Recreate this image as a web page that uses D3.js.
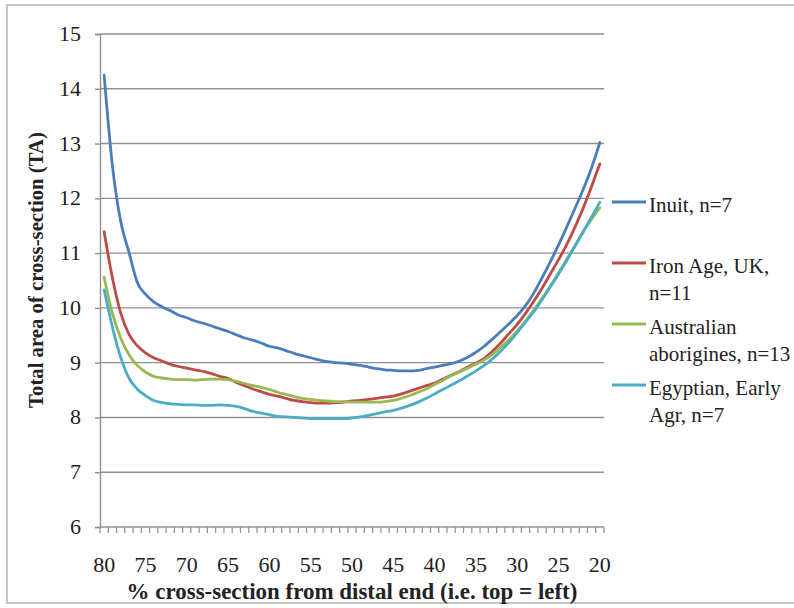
<!DOCTYPE html>
<html>
<head>
<meta charset="utf-8">
<script src="https://cdn.jsdelivr.net/npm/d3@7"></script>
</head>
<body style="margin:0">
<svg id="chart" width="794" height="608" font-family="Liberation Serif"></svg>
<script>
// ---- data ----
const categories = ["80","79","78","77","76","75","74","73","72","71",
  "70","69","68","67","66","65","64","63","62","61",
  "60","59","58","57","56","55","54","53","52","51",
  "50","49","48","47","46","45","44","43","42","41",
  "40","39","38","37","36","35","34","33","32","31",
  "30","29","28","27","26","25","24","23","22","21","20"];
const tickLabels = ["80","75","70","65","60","55","50","45","40","35","30","25","20"];
const yTicks = [6,7,8,9,10,11,12,13,14,15];

const inuit = [14.25,12.6,11.58,11.02,10.47,10.25,10.11,10.02,9.95,9.87,
  9.82,9.76,9.72,9.67,9.62,9.57,9.51,9.45,9.41,9.36,
  9.30,9.27,9.22,9.17,9.13,9.09,9.05,9.02,9.00,8.99,
  8.97,8.95,8.92,8.89,8.87,8.86,8.85,8.85,8.86,8.89,
  8.92,8.95,8.98,9.03,9.10,9.19,9.30,9.43,9.57,9.71,
  9.86,10.04,10.27,10.55,10.84,11.15,11.48,11.82,12.17,12.56,13.02];
const ironAge = [11.39,10.55,9.91,9.52,9.31,9.18,9.09,9.03,8.97,8.93,
  8.90,8.87,8.84,8.80,8.75,8.71,8.64,8.58,8.52,8.47,
  8.42,8.39,8.35,8.31,8.29,8.27,8.26,8.26,8.27,8.28,
  8.30,8.31,8.33,8.35,8.37,8.39,8.43,8.48,8.53,8.58,
  8.63,8.70,8.77,8.84,8.92,8.99,9.08,9.21,9.36,9.53,
  9.70,9.90,10.12,10.36,10.62,10.88,11.16,11.48,11.83,12.22,12.63];
const australian = [10.56,9.90,9.45,9.15,8.95,8.83,8.75,8.72,8.70,8.69,
  8.69,8.68,8.69,8.70,8.70,8.69,8.66,8.62,8.58,8.55,
  8.51,8.46,8.42,8.38,8.35,8.33,8.31,8.30,8.29,8.29,
  8.28,8.28,8.28,8.28,8.29,8.31,8.35,8.40,8.46,8.52,
  8.60,8.68,8.76,8.83,8.90,8.97,9.05,9.15,9.28,9.42,
  9.58,9.76,9.96,10.17,10.40,10.64,10.89,11.14,11.40,11.62,11.83];
const egyptian = [10.33,9.65,9.10,8.72,8.52,8.40,8.31,8.27,8.25,8.24,
  8.23,8.23,8.22,8.22,8.23,8.22,8.20,8.16,8.11,8.08,
  8.05,8.02,8.01,8.00,7.99,7.98,7.98,7.98,7.98,7.98,
  7.99,8.01,8.04,8.07,8.10,8.13,8.17,8.22,8.28,8.35,
  8.43,8.51,8.59,8.67,8.76,8.85,8.95,9.07,9.21,9.37,
  9.55,9.74,9.93,10.15,10.38,10.62,10.87,11.13,11.39,11.66,11.93];

const seriesNames = [["Inuit, n=7"], ["Iron Age, UK,", "n=11"], ["Australian", "aborigines, n=13"], ["Egyptian, Early", "Agr, n=7"]];
const seriesValues = [inuit, ironAge, australian, egyptian];
const seriesColors = ["#4a7ebb", "#be4b48", "#98b954", "#4bacc6"];

const xTitle = "% cross-section from distal end (i.e. top = left)";
const yTitle = "Total area of cross-section (TA)";

const F = "Liberation Serif";

// ---- layout ----
const svg = d3.select("#chart");
const plot = { left: 100, right: 604, top: 34, bottom: 527 };

function txt(parent, x, y, s, size, anchor) {
  return parent.append("text").attr("x", x).attr("y", y)
    .attr("font-family", F).style("font-family", F)
    .style("font-size", size + "px")
    .attr("text-anchor", anchor || "start")
    .attr("fill", "#222").text(s);
}

// outer frame
svg.append("rect")
  .attr("x", 7).attr("y", 5).attr("width", 790).attr("height", 598)
  .attr("fill", "none").attr("stroke", "#c4c4c4").attr("stroke-width", 2);

const x = d3.scaleBand().domain(categories).range([plot.left, plot.right]).paddingInner(0).paddingOuter(0);
const y = d3.scaleLinear().domain([6, 15]).range([plot.bottom, plot.top]);

// gridlines
svg.append("g").selectAll("line").data(yTicks.filter(d => d > 6)).join("line")
  .attr("x1", plot.left).attr("x2", plot.right)
  .attr("y1", d => y(d)).attr("y2", d => y(d))
  .attr("stroke", "#909090").attr("stroke-width", 1.4);

// y axis (lines from d3 axis, labels as plain texts)
const yAxis = svg.append("g").attr("transform", `translate(${plot.left},0)`)
  .call(d3.axisLeft(y).tickValues(yTicks).tickSize(5).tickFormat(""));
yAxis.select(".domain").attr("stroke", "#909090").attr("stroke-width", 1.4);
yAxis.selectAll(".tick line").attr("stroke", "#909090").attr("stroke-width", 1.4);
yAxis.selectAll(".tick text").remove();
const yLab = svg.append("g");
yTicks.forEach(v => txt(yLab, 81, y(v) + 7, String(v), 22, "end"));

// x axis (ticks between categories)
const xAxisG = svg.append("g").attr("transform", `translate(0,${plot.bottom})`);
xAxisG.append("line").attr("x1", plot.left).attr("x2", plot.right).attr("y1", 0).attr("y2", 0)
  .attr("stroke", "#909090").attr("stroke-width", 1.4);
const boundaries = categories.map(c => x(c)).concat([x(categories[categories.length - 1]) + x.bandwidth()]);
xAxisG.selectAll("line.tk").data(boundaries).join("line").attr("class", "tk")
  .attr("x1", d => d).attr("x2", d => d).attr("y1", 0).attr("y2", 6)
  .attr("stroke", "#909090").attr("stroke-width", 1.2);
tickLabels.forEach(c => txt(svg, x(c) + x.bandwidth() / 2, plot.bottom + 45, c, 22, "middle"));

// lines
const line = d3.line()
  .x((d, i) => x(categories[i]) + x.bandwidth() / 2)
  .y(d => y(d))
  .curve(d3.curveMonotoneX);
svg.append("g").selectAll("path").data(seriesValues).join("path")
  .attr("d", d => line(d)).attr("fill", "none")
  .attr("stroke", (d, i) => seriesColors[i]).attr("stroke-width", 2.8)
  .attr("stroke-linejoin", "round").attr("stroke-linecap", "round");

// legend
const legendY = [202, 263, 324, 385];
seriesNames.forEach((lines, i) => {
  svg.append("line").attr("x1", 612).attr("x2", 646).attr("y1", legendY[i]).attr("y2", legendY[i])
    .attr("stroke", seriesColors[i]).attr("stroke-width", 2.8);
  lines.forEach((t, j) => txt(svg, 649, legendY[i] + 10 + j * 27, t, 21));
});

// axis titles, sized to the reference extents
function fitText(sel, target) {
  sel.style("font-size", "18px");
  const w = sel.node().getComputedTextLength();
  sel.style("font-size", (18 * target / w).toFixed(2) + "px");
}
const xt = txt(svg, 352, 599, xTitle, 18, "middle").style("font-weight", "bold");
fitText(xt, 451);
const yt = svg.append("text").attr("transform", "translate(43,270) rotate(-90)")
  .attr("text-anchor", "middle").attr("font-family", F).style("font-family", F)
  .style("font-weight", "bold").attr("fill", "#222").text(yTitle);
fitText(yt, 276);
</script>
</body>
</html>
